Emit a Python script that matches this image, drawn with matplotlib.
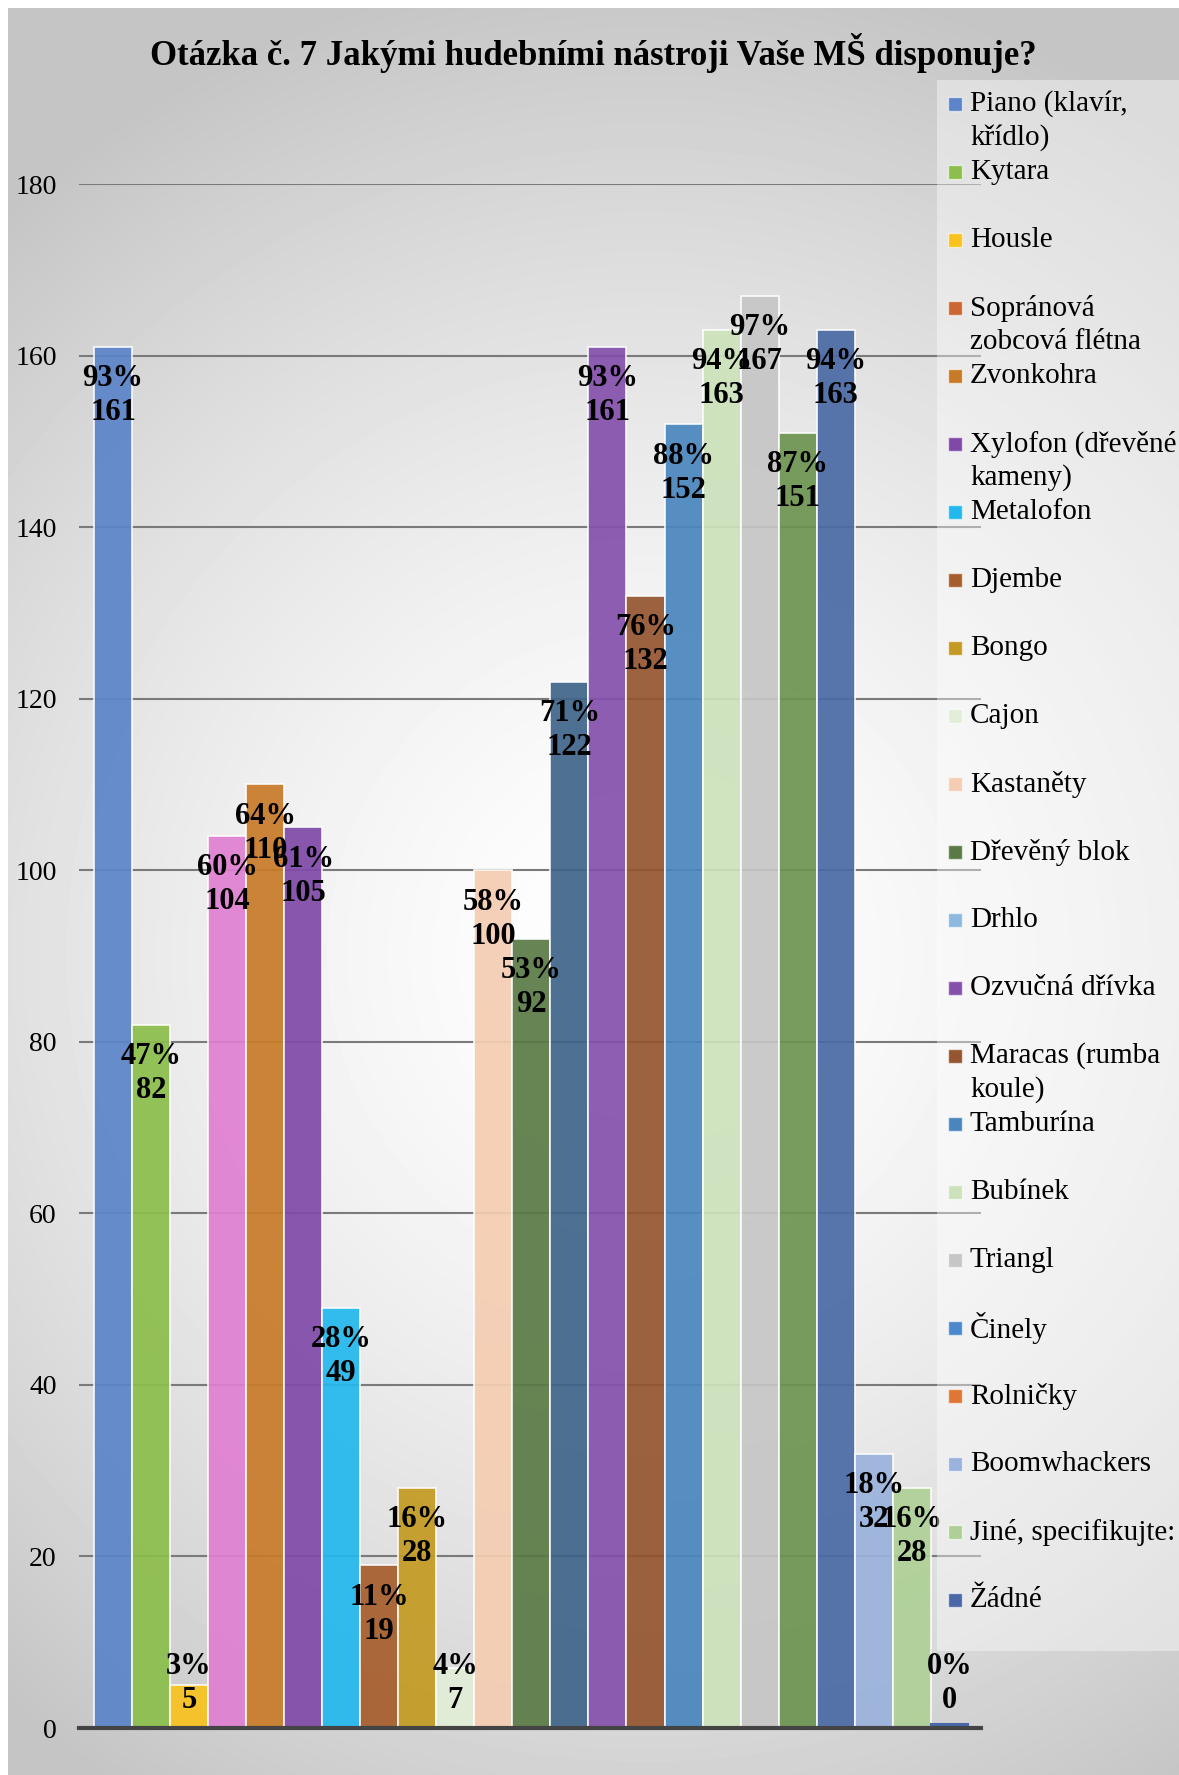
import numpy as np
import matplotlib
matplotlib.use("Agg")
import matplotlib.pyplot as plt
from matplotlib.patches import Rectangle

plt.rcParams['font.family'] = ['Liberation Serif', 'DejaVu Serif']

title = "Otázka č. 7 Jakými hudebními nástroji Vaše MŠ disponuje?"

# categories (legend labels) in bar order
labels = ["Piano (klavír,\nkřídlo)", "Kytara", "Housle", "Sopránová\nzobcová flétna",
          "Zvonkohra", "Xylofon (dřevěné\nkameny)", "Metalofon", "Djembe", "Bongo",
          "Cajon", "Kastaněty", "Dřevěný blok", "Drhlo", "Ozvučná dřívka",
          "Maracas (rumba\nkoule)", "Tamburína", "Bubínek", "Triangl", "Činely",
          "Rolničky", "Boomwhackers", "Jiné, specifikujte:", "Žádné"]
counts = [161, 82, 5, 104, 110, 105, 49, 19, 28, 7, 100, 92, 122, 161, 132,
          152, 163, 167, 151, 163, 32, 28, 0]
pcts = [93, 47, 3, 60, 64, 61, 28, 11, 16, 4, 58, 53, 71, 93, 76,
        88, 94, 97, 87, 94, 18, 16, 0]

bar_colors = ["#5B84C9", "#8BBE4B", "#F9C21E", "#E07FD2", "#C87A28", "#8049A8",
              "#22B8EE", "#A65D2C", "#C49A22", "#E2EED8", "#F5CDB2", "#5A7A45",
              "#3F6489", "#8450AC", "#955530", "#4A86BE", "#CDE2BB", "#C6C6C6",
              "#6C9450", "#4A6AA4", "#9AB2DC", "#AED096", "#4A68A8"]
legend_colors = ["#5B84C9", "#8BBE4B", "#F9C21E", "#CC6633", "#C87A28", "#8049A8",
                 "#22B8EE", "#A65D2C", "#C49A22", "#E2EED8", "#F5CDB2", "#5A7A45",
                 "#8DB8E0", "#8450AC", "#955530", "#4A86BE", "#CDE2BB", "#C6C6C6",
                 "#4A8ACC", "#DD7733", "#9AB2DC", "#AED096", "#4A68A8"]

W, H = 1179, 1775
fig = plt.figure(figsize=(W / 100, H / 100), dpi=100)
fig.patch.set_facecolor("white")

# background gradient
bg = fig.add_axes([8 / W, 0, 1 - 8 / W, 1 - 8 / H])
yy, xx = np.mgrid[0:H:4, 0:W:4]
r = np.sqrt(((xx - 640) / 980.0) ** 2 + ((yy - 950) / 1000.0) ** 2)
val = 1 - 0.23 * np.clip(r, 0, 1) ** 1.5
bg.imshow(val, cmap="gray", vmin=0, vmax=1, aspect="auto",
          extent=[0, W, H, 0], interpolation="bilinear")
bg.axis("off")

# main axes
ax = fig.add_axes([79 / W, 1 - 1728 / H, (981 - 79) / W, (1728 - 184) / H])
ax.patch.set_alpha(0)
x = np.arange(len(counts))
ax.bar(x, counts, width=1.0, color=bar_colors, alpha=0.92,
       edgecolor=(1, 1, 1, 0.5), linewidth=1.2, zorder=2)
for xi, v, c in zip(x, counts, bar_colors):
    if v == 0:
        ax.bar(xi, 0.45, width=0.98, color=c, edgecolor=c, linewidth=1.5, zorder=2)

ax.set_ylim(0, 180)
ax.set_xlim(-0.894, 22.82)
ax.set_yticks(range(0, 181, 20))
ax.set_xticks([])
ax.yaxis.grid(True, color="#7a7a7a", linewidth=1.5, zorder=1)
ax.set_axisbelow(True)
for s in ["top", "right", "left"]:
    ax.spines[s].set_visible(False)
ax.spines["bottom"].set_color("#444444")
ax.spines["bottom"].set_linewidth(3)
ax.spines["bottom"].set_zorder(3)
ax.tick_params(axis="y", length=0, pad=16, labelsize=20)

# data labels (inside end)
ppu = (1728 - 184) / 180.0
for xi, v, p in zip(x, counts, pcts):
    y1 = max(v - 32 / ppu, 61 / ppu)
    y2 = y1 - 34 / ppu
    ax.text(xi, y1, f"{p}%", ha="center", va="center", fontsize=22,
            fontweight="bold", color="black", zorder=5)
    ax.text(xi, y2, f"{v}", ha="center", va="center", fontsize=22,
            fontweight="bold", color="black", zorder=5)

# title
fig.text(524 / 1042, 1 - 53 / H, title, ha="center", va="center",
         fontsize=25, fontweight="bold")

# legend drawn by hand (fixed pitch like the original)
fig.patches.append(Rectangle((937 / W, 1 - 1651 / H), (W - 937) / W, (1651 - 80) / H,
                             transform=fig.transFigure, facecolor="white",
                             alpha=0.4, edgecolor="none", zorder=3))
for i, (lab, c) in enumerate(zip(labels, legend_colors)):
    yc = 104 + 68 * i
    fig.patches.append(Rectangle((948 / W, 1 - (yc + 7) / H), 14 / W, 14 / H,
                                 transform=fig.transFigure, facecolor=c,
                                 edgecolor=(1, 1, 1, 0.6), linewidth=1, zorder=4))
    for j, line in enumerate(lab.split("\n")):
        fig.text(970 / W, 1 - (yc + 34 * j) / H, line, ha="left", va="center",
                 fontsize=21, zorder=5)

fig.savefig("out.png", dpi=100)
